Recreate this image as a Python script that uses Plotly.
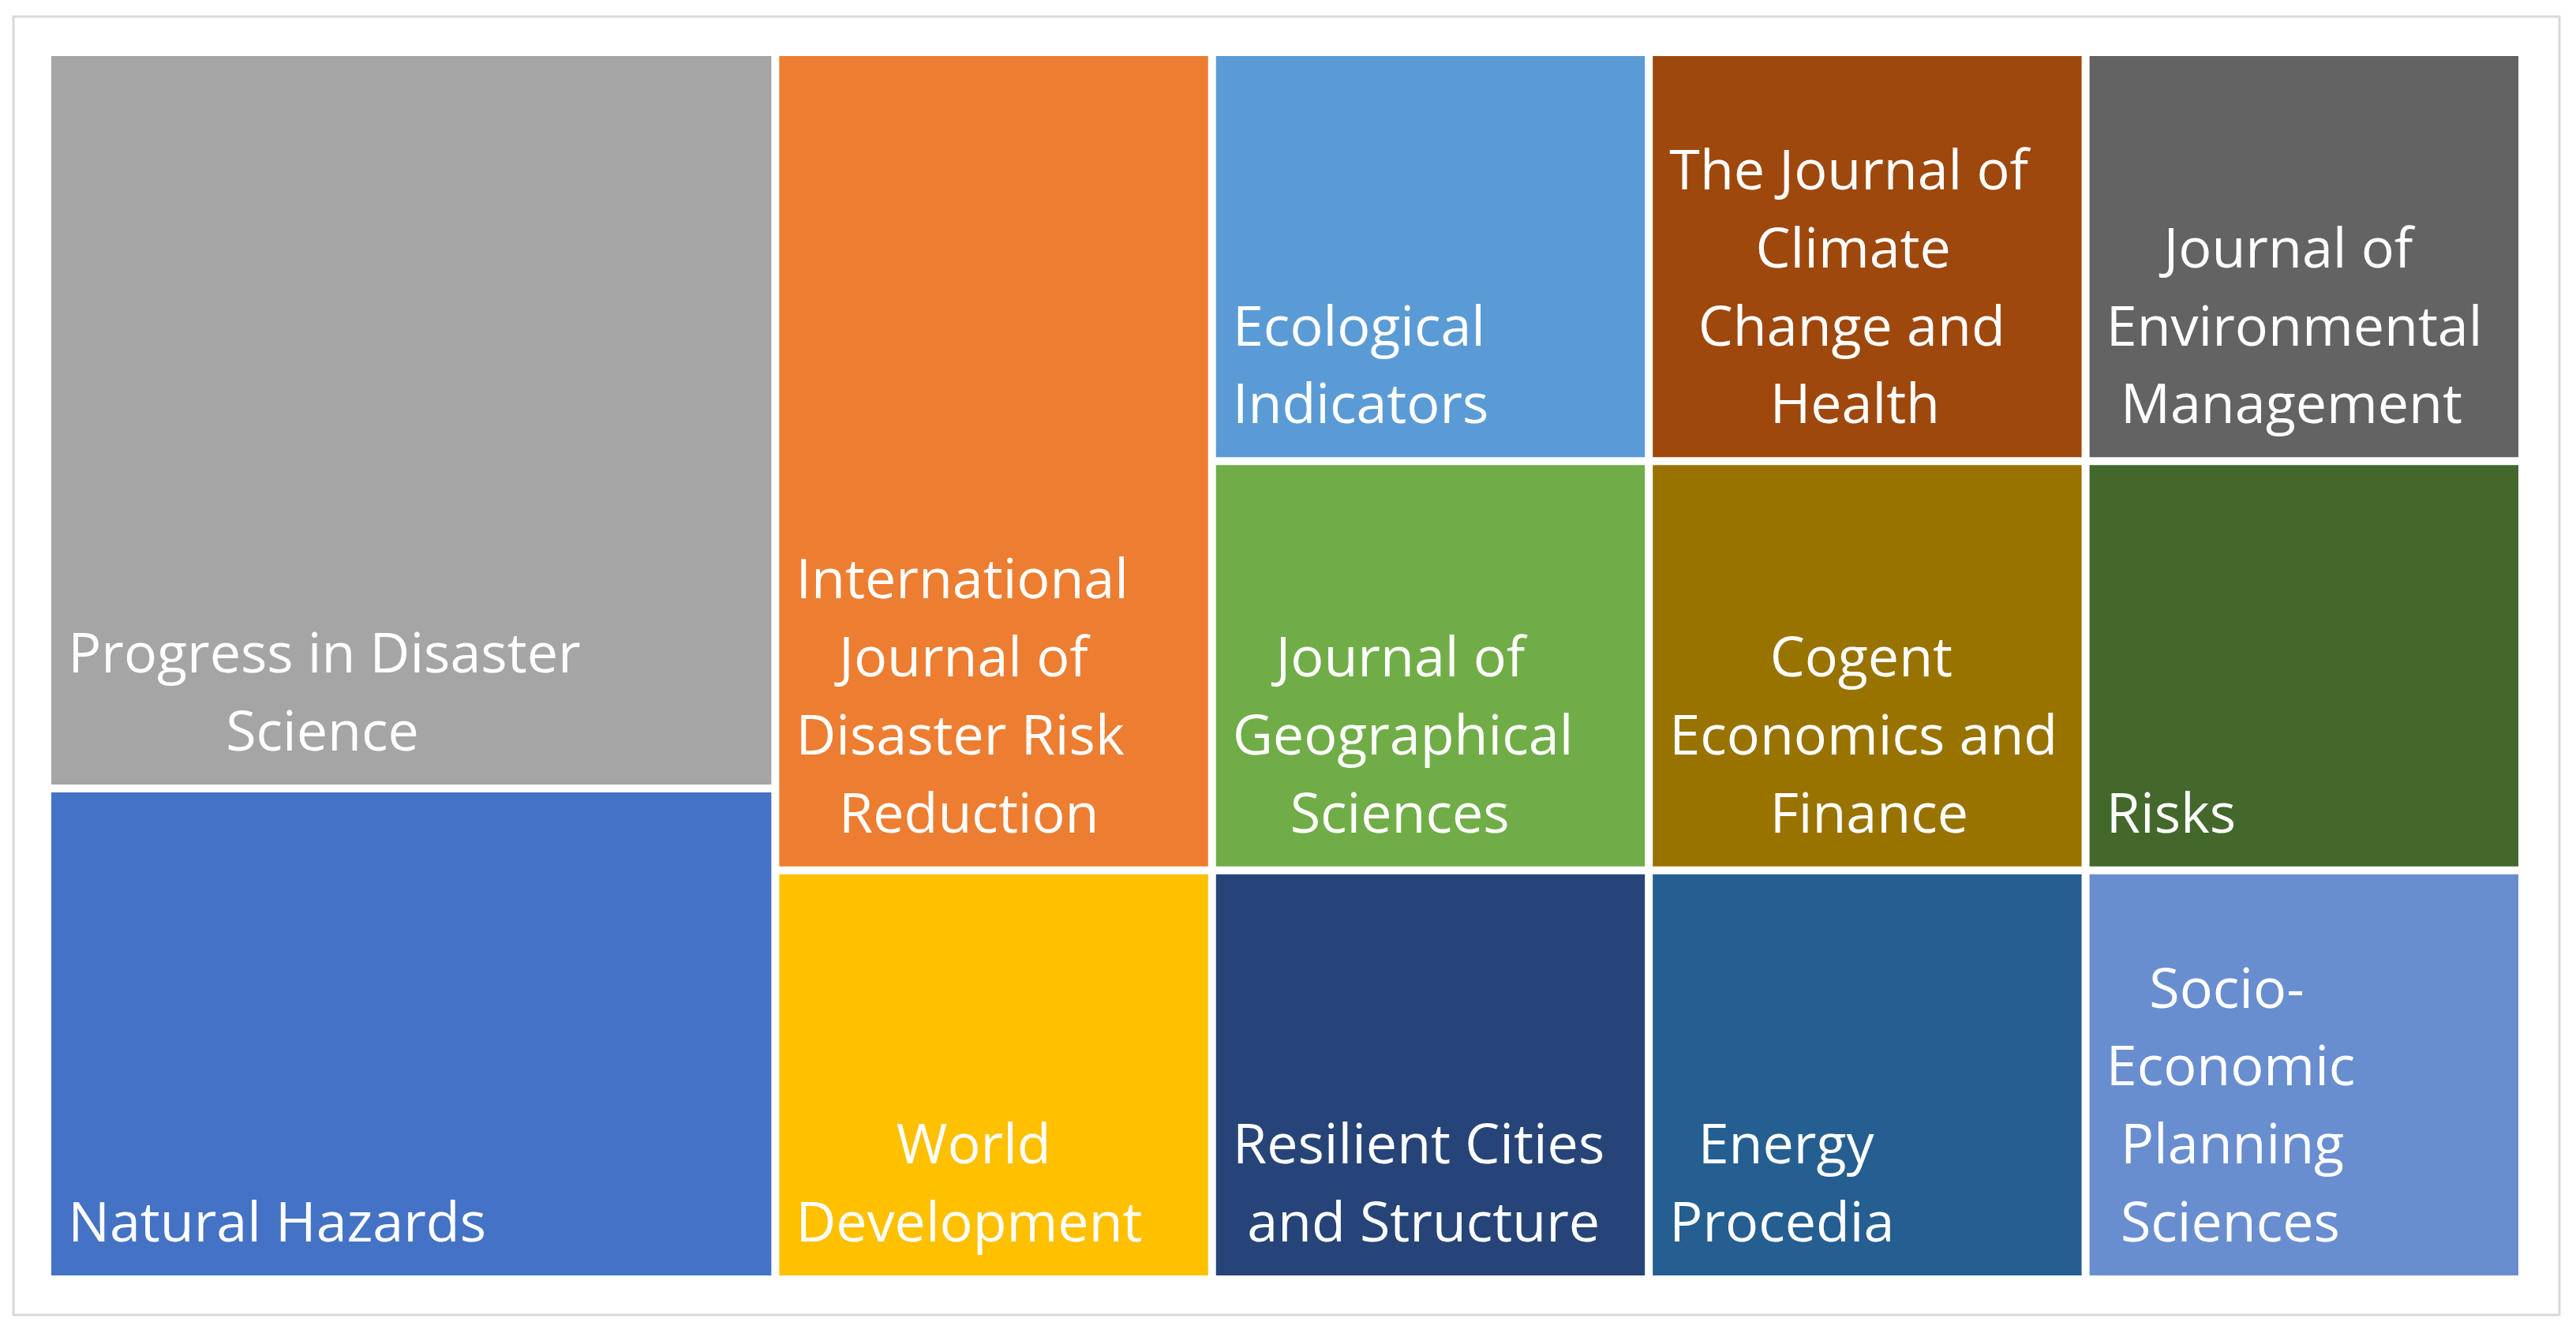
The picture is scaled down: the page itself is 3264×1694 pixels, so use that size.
import plotly.graph_objects as go

# journals in the order the squarified tiling places them
journals = [
    "Progress in Disaster Science",
    "Natural Hazards",
    "International Journal of Disaster Risk Reduction",
    "World Development",
    "Ecological Indicators",
    "Journal of Geographical Sciences",
    "Resilient Cities and Structure",
    "The Journal of Climate Change and Health",
    "Journal of Environmental Management",
    "Cogent Economics and Finance",
    "Energy Procedia",
    "Risks",
    "Socio-Economic Planning Sciences",
]
papers = [3, 2, 2, 1, 1, 1, 1, 1, 1, 1, 1, 1, 1]
colors = ["#A5A5A5", "#4472C4", "#ED7D31", "#FFC000", "#5B9BD5", "#70AD47", "#264478",
          "#9E480E", "#636363", "#997300", "#255E91", "#43682B", "#698ED0"]
# how each label wraps inside its tile
label_lines = [
    ["Progress in Disaster", "Science"],
    ["Natural Hazards"],
    ["International", "Journal of", "Disaster Risk", "Reduction"],
    ["World", "Development"],
    ["Ecological", "Indicators"],
    ["Journal of", "Geographical", "Sciences"],
    ["Resilient Cities", "and Structure"],
    ["The Journal of", "Climate", "Change and", "Health"],
    ["Journal of", "Environmental", "Management"],
    ["Cogent", "Economics and", "Finance"],
    ["Energy", "Procedia"],
    ["Risks"],
    ["Socio-", "Economic", "Planning", "Sciences"],
]

# rough Open Sans advance widths (1/1000 em), used to centre the wrapped lines
W = dict(zip("abcdefghijklmnopqrstuvwxyz",
             [556, 613, 480, 613, 561, 336, 546, 613, 258, 258, 530, 258, 930,
              613, 601, 613, 613, 411, 479, 361, 613, 498, 774, 523, 498, 470]))
W.update({"A": 633, "C": 631, "D": 740, "E": 556, "F": 518, "G": 725, "H": 738,
          "I": 279, "J": 258, "M": 907, "N": 761, "P": 603, "R": 617, "S": 549,
          "T": 553, "W": 925, " ": 260, "-": 322})
NBSP = "\u00a0"
GLYPH = 70     # glyph size of the labels
SPACING = 76   # base size, sets the line pitch (1.3 em)


def centred(lines):
    widths = [sum(W.get(c, 560) for c in ln) for ln in lines]
    top = max(widths)
    out = []
    for ln, w in zip(lines, widths):
        n = int(round((top - w) / 2 / 260))
        out.append("<span style='font-size:%dpx'>%s</span>" % (GLYPH, NBSP * (1 + n) + ln))
    # a blank glyph with a deeper descent lifts the block off the tile bottom
    out[-1] += "<span style='font-size:136px'>%s</span>" % NBSP
    return "<br>".join(out)


texts = [centred(l) for l in label_lines]

fig = go.Figure(go.Treemap(
    labels=journals,
    parents=[""] * len(journals),
    values=papers,
    text=texts,
    textinfo="text",
    texttemplate="%{text}",
    textposition="bottom left",
    textfont=dict(family="Open Sans", size=SPACING, color="white"),
    marker=dict(colors=colors, line=dict(width=0), pad=dict(t=0, l=0, r=0, b=0)),
    tiling=dict(pad=10),
    pathbar=dict(visible=False),
    hoverinfo="label+value",
    sort=True,
))

# the page body adds 8px on the left and top
off = 8
ml, mr, mt, mb = 65 - off, 81 - off + off, 71 - off, 86
pw, ph = 3264 - ml - mr, 1694 - mt - mb
fig.update_layout(
    width=3264, height=1694,
    margin=dict(l=ml, r=mr, t=mt, b=mb),
    paper_bgcolor="white",
    shapes=[dict(type="rect", xref="paper", yref="paper",
                 x0=(17 - off - ml) / pw, x1=(3243 - off - ml) / pw,
                 y0=1 - (1666 - off - mt) / ph, y1=1 - (21 - off - mt) / ph,
                 line=dict(color="#D9D9D9", width=3), layer="below")],
)

fig.write_html("out.html")
